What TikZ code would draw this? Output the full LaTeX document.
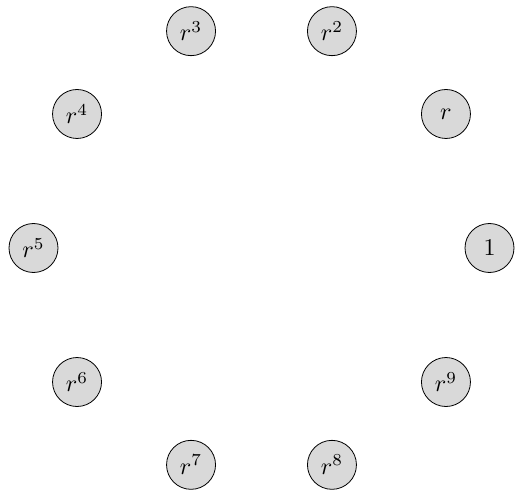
\documentclass[tikz,border=0pt]{standalone}
\usetikzlibrary{calc}
\newcommand{\elemlabel}[1]{\scalebox{2.4}{$#1$}}
\begin{document}
\begin{tikzpicture}[x=1pt,y=1pt,
  elem/.style={circle,draw=black,fill=gray!30,line width=0.8pt,minimum size=49pt,inner sep=0pt}]
\useasboundingbox (0,0) rectangle (523,491);
\coordinate (c) at (261.5,243);
\node[elem] (n0) at ($(c)+(0:228)$) {\elemlabel{1}};
\node[elem] (n1) at ($(c)+(36:228)$) {\elemlabel{r}};
\node[elem] (n2) at ($(c)+(72:228)$) {\elemlabel{r^2}};
\node[elem] (n3) at ($(c)+(108:228)$) {\elemlabel{r^3}};
\node[elem] (n4) at ($(c)+(144:228)$) {\elemlabel{r^4}};
\node[elem] (n5) at ($(c)+(180:228)$) {\elemlabel{r^5}};
\node[elem] (n6) at ($(c)+(216:228)$) {\elemlabel{r^6}};
\node[elem] (n7) at ($(c)+(252:228)$) {\elemlabel{r^7}};
\node[elem] (n8) at ($(c)+(288:228)$) {\elemlabel{r^8}};
\node[elem] (n9) at ($(c)+(324:228)$) {\elemlabel{r^9}};
\end{tikzpicture}
\end{document}
